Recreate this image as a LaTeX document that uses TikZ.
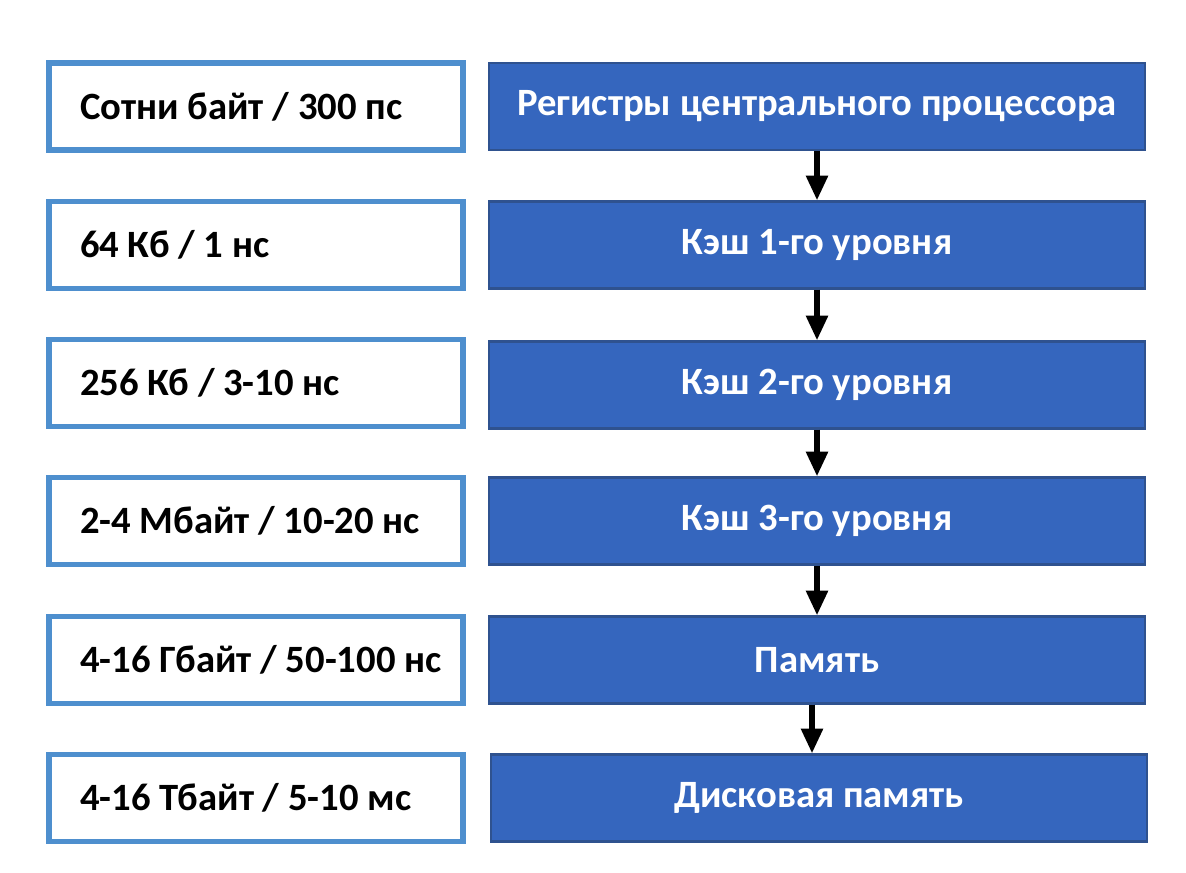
\documentclass[tikz,border=0pt]{standalone}
\usepackage{fontspec}
\setmainfont{Carlito}
\usepackage{xcolor}
\usetikzlibrary{arrows.meta}
\definecolor{boxblue}{HTML}{3566BE}
\definecolor{boxedge}{HTML}{2F528F}
\definecolor{sizeedge}{HTML}{4E8FCE}

\begin{document}
\begin{tikzpicture}[x=0.02cm,y=-0.02cm,
    size/.style={draw=sizeedge,line width=3.2pt,fill=white,text width=7.56cm,
      align=flush left,inner xsep=0.36cm,minimum height=1.74cm,
      execute at begin node=\hspace*{0.26cm},
      font=\fontsize{22}{26}\selectfont\bfseries},
    level/.style={draw=boxedge,line width=1.4pt,fill=boxblue,text=white,
      minimum width=13.12cm,minimum height=1.74cm,
      font=\fontsize{22}{26}\selectfont\bfseries},
    down/.style={line width=3pt,-{Triangle[length=14pt,width=12pt]}}]
  \useasboundingbox (0,0) rectangle (1186,872);
  %% sizes and access times
  \node[size](S1) at (256,106.5) {Сотни байт / 300 пс};
  \node[size](S2) at (256,245) {64 Кб / 1 нс};
  \node[size](S3) at (256,383) {256 Кб / 3-10 нс};
  \node[size](S4) at (256,521) {2-4 Мбайт / 10-20 нс};
  \node[size](S5) at (256,660) {4-16 Гбайт / 50-100 нс};
  \node[size](S6) at (256,798) {4-16 Тбайт / 5-10 мс};
  %% memory levels
  \node[level](R1) at (817,106.5) {Регистры центрального процессора};
  \node[level](R2) at (817,245) {Кэш 1-го уровня};
  \node[level](R3) at (817,385) {Кэш 2-го уровня};
  \node[level](R4) at (817,521) {Кэш 3-го уровня};
  \node[level](R5) at (817,660) {Память};
  \node[level](R6) at (819,798) {Дисковая память};
  %%
  \draw[down](R1)--(R2);
  \draw[down](R2)--(R3);
  \draw[down](R3)--(R4);
  \draw[down](R4)--(R5);
  \draw[down](R5.south -| 812,0)--(R6.north -| 812,0);
\end{tikzpicture}
\end{document}
